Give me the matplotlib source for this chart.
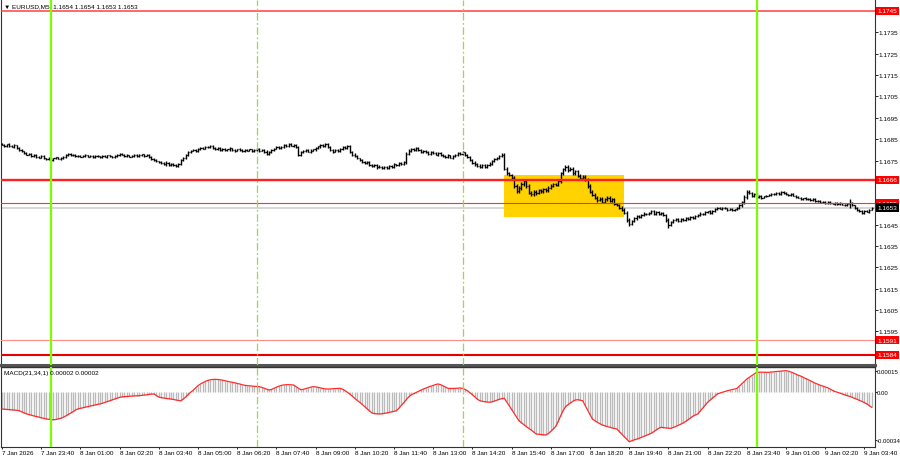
import numpy as np
import matplotlib.pyplot as plt
from matplotlib.patches import Rectangle

plt.rcParams['font.family'] = ['Liberation Sans', 'DejaVu Sans']

# EURUSD M5 closes, in points above 1.16000 (one value per bar)
close_pts = [
    824, 818, 826, 820, 815, 822, 808, 800, 793, 784,
    778, 781, 772, 776, 768, 764, 770, 760, 757, 764,
    752, 760, 765, 758, 762, 768, 776, 781, 774, 778,
    770, 773, 768, 771, 775, 769, 772, 767, 773, 770,
    766, 771, 768, 774, 770, 765, 772, 776, 781, 778,
    772, 775, 769, 773, 777, 771, 775, 779, 773, 776,
    768, 758, 752, 746, 743, 738, 732, 740, 728, 735,
    730, 726, 734, 752, 763, 775, 790, 796, 800, 794,
    803, 810, 806, 815, 812, 818, 809, 804, 810, 800,
    805, 798, 802, 808, 800, 796, 803, 799, 793, 801,
    797, 802, 794, 799, 804, 796, 800, 792, 782, 790,
    800, 806, 812, 808, 815, 822, 818, 826, 820, 823,
    812, 778, 788, 795, 800, 792, 797, 802, 808, 816,
    822, 818, 826, 812, 798, 792, 800, 795, 804, 812,
    808, 816, 790, 778, 772, 760, 752, 744, 738, 742,
    730, 724, 728, 718, 722, 714, 720, 716, 726, 721,
    732, 728, 738, 734, 742, 782, 796, 805, 800, 808,
    798, 790, 796, 788, 782, 790, 785, 778, 784, 776,
    772, 768, 774, 764, 770, 778, 785, 781, 788, 776,
    766, 752, 740, 732, 726, 720, 728, 722, 730, 736,
    748, 758, 762, 772, 778, 712, 690, 682, 670, 630,
    608, 622, 640, 655, 630, 600, 592, 605, 598, 612,
    606, 615, 610, 622, 632, 640, 636, 655, 690, 710,
    722, 705, 712, 690, 700, 680, 668, 675, 660, 630,
    605, 590, 575, 565, 572, 558, 568, 576, 562, 570,
    548, 540, 530, 520, 505, 470, 455, 468, 480, 490,
    485, 495, 502, 498, 505, 512, 500, 508, 498, 505,
    495, 470, 448, 462, 470, 476, 468, 478, 472, 482,
    476, 486, 480, 490, 495, 502, 498, 508, 512, 505,
    515, 522, 528, 524, 530, 526, 520, 525, 518, 522,
    530, 540, 555, 580, 605, 598, 585, 592, 578, 584,
    576, 582, 586, 590, 595, 592, 598, 594, 602, 600,
    592, 588, 594, 585, 580, 576, 570, 574, 568, 572,
    566, 570, 562, 560, 555, 558, 552, 556, 550, 548,
    552, 546, 550, 544, 540, 548, 552, 540, 528, 520,
    512, 506, 515, 510, 520, 530,
]

# high/low extension beyond the body, in points
wick_pts = [
    3, 4, 3, 5, 3, 4, 3, 4, 5, 3,
    4, 3, 5, 3, 4, 3, 4, 5, 3, 4,
    5, 3, 4, 3, 4, 3, 5, 4, 3, 4,
    3, 4, 3, 3, 4, 3, 4, 3, 3, 4,
    3, 4, 3, 4, 3, 3, 4, 5, 3, 4,
    3, 4, 3, 4, 5, 3, 4, 3, 4, 3,
    4, 5, 4, 3, 4, 5, 4, 6, 4, 5,
    4, 5, 4, 6, 5, 4, 5, 4, 3, 4,
    4, 5, 3, 4, 5, 4, 3, 4, 5, 3,
    4, 3, 4, 5, 3, 4, 3, 4, 3, 4,
    3, 4, 3, 4, 3, 4, 3, 5, 6, 4,
    4, 5, 4, 5, 4, 6, 4, 5, 4, 5,
    4, 8, 5, 4, 5, 4, 5, 4, 5, 4,
    5, 4, 6, 5, 4, 5, 4, 5, 4, 5,
    4, 5, 6, 5, 6, 5, 4, 5, 6, 5,
    5, 4, 5, 6, 5, 4, 5, 4, 5, 4,
    5, 4, 5, 4, 6, 8, 6, 5, 6, 5,
    5, 4, 5, 4, 5, 4, 5, 4, 5, 4,
    5, 4, 5, 4, 5, 4, 5, 6, 5, 4,
    5, 6, 5, 6, 5, 6, 5, 6, 5, 6,
    5, 6, 5, 6, 7, 8, 7, 6, 7, 9,
    9, 8, 9, 8, 7, 8, 7, 8, 7, 6,
    6, 7, 6, 7, 6, 7, 6, 7, 8, 7,
    8, 7, 6, 7, 6, 7, 6, 7, 6, 8,
    8, 7, 6, 7, 6, 7, 6, 7, 6, 5,
    6, 5, 6, 5, 6, 8, 10, 6, 5, 6,
    5, 6, 5, 4, 5, 6, 5, 4, 5, 4,
    5, 7, 12, 6, 5, 4, 5, 4, 5, 4,
    4, 5, 4, 5, 4, 5, 4, 5, 4, 5,
    4, 5, 4, 3, 4, 3, 4, 3, 4, 3,
    4, 5, 6, 7, 9, 6, 5, 6, 5, 4,
    4, 3, 4, 3, 4, 5, 4, 5, 4, 5,
    4, 3, 4, 3, 4, 3, 4, 3, 4, 3,
    4, 3, 4, 3, 4, 3, 4, 3, 4, 3,
    4, 3, 4, 3, 4, 5, 20, 5, 4, 5,
    4, 5, 4, 3, 4, 3,
]

# MACD(21,34,1) main line, in units of 1e-6
macd_e6 = [
    -121, -122, -124, -125, -127, -128, -130, -133, -140, -148,
    -155, -160, -165, -170, -174, -178, -183, -187, -191, -194,
    -196, -197, -195, -191, -187, -180, -170, -160, -150, -140,
    -128, -120, -116, -112, -108, -104, -100, -96, -92, -88,
    -85, -80, -74, -68, -62, -56, -50, -44, -38, -35,
    -33, -32, -30, -29, -28, -27, -26, -24, -22, -20,
    -17, -15, -14, -25, -36, -40, -43, -46, -48, -50,
    -53, -57, -60, -62, -50, -35, -18, -2, 12, 28,
    45, 57, 66, 75, 82, 87, 89, 90, 89, 87,
    84, 80, 76, 72, 69, 65, 61, 57, 52, 48,
    45, 44, 42, 41, 39, 38, 33, 27, 20, 14,
    18, 26, 34, 41, 47, 50, 52, 52, 51, 50,
    38, 26, 16, 19, 24, 29, 34, 38, 36, 33,
    29, 25, 22, 21, 22, 23, 24, 25, 26, 20,
    10, -2, -15, -30, -45, -60, -73, -88, -103, -118,
    -134, -149, -153, -155, -156, -155, -152, -149, -145, -141,
    -137, -133, -115, -95, -75, -55, -35, -20, -12, -4,
    5, 13, 21, 28, 35, 41, 47, 53, 57, 52,
    44, 35, 26, 25, 25, 26, 27, 28, 26, 18,
    9, -5, -20, -35, -50, -62, -66, -69, -71, -73,
    -70, -64, -58, -52, -47, -45, -70, -97, -125, -150,
    -178, -204, -218, -232, -246, -258, -270, -284, -298, -300,
    -302, -304, -305, -295, -280, -262, -245, -210, -170, -133,
    -105, -90, -78, -66, -57, -55, -58, -62, -95, -128,
    -160, -192, -204, -215, -225, -234, -240, -245, -250, -255,
    -259, -263, -282, -300, -318, -336, -353, -347, -340, -335,
    -329, -322, -315, -308, -301, -293, -282, -270, -258, -251,
    -253, -255, -257, -258, -252, -245, -237, -229, -220, -209,
    -197, -185, -172, -163, -156, -135, -114, -92, -73, -58,
    -42, -27, -14, -8, -2, 3, 9, 13, 17, 21,
    26, 42, 58, 75, 92, 104, 116, 128, 140, 140,
    141, 140, 140, 140, 142, 143, 145, 147, 148, 150,
    151, 148, 142, 135, 127, 119, 113, 105, 96, 88,
    79, 70, 62, 55, 48, 42, 36, 30, 21, 12,
    3, -2, -8, -14, -20, -26, -31, -38, -45, -52,
    -60, -67, -75, -85, -97, -109,
]

time_labels = [
    '7 Jan 2026', '7 Jan 23:40', '8 Jan 01:00', '8 Jan 02:20', '8 Jan 03:40',
    '8 Jan 05:00', '8 Jan 06:20', '8 Jan 07:40', '8 Jan 09:00', '8 Jan 10:20',
    '8 Jan 11:40', '8 Jan 13:00', '8 Jan 14:20', '8 Jan 15:40', '8 Jan 17:00',
    '8 Jan 18:20', '8 Jan 19:40', '8 Jan 21:00', '8 Jan 22:20', '8 Jan 23:40',
    '9 Jan 01:00', '9 Jan 02:20', '9 Jan 03:40',
]
label_every = 16  # bars between time labels

levels = [1.1745, 1.1666, 1.1655, 1.1591, 1.1584]
last_price = 1.1653
price_ticks = [1.1735, 1.1725, 1.1715, 1.1705, 1.1695, 1.1685, 1.1675,
               1.1645, 1.1635, 1.1625, 1.1615, 1.1605, 1.1595]
session_bars = [20, 308]       # green lines (midnight)
open_bars = [104, 188]         # dash-dot lines
zone_bars = [204.9, 253.9]
zone_prices = [1.16486, 1.16682]

# ---- derived OHLC ----
closes = 1.16 + np.array(close_pts) / 1e5
opens = np.r_[closes[0] + 0.00004, closes[:-1]]
wick = np.array(wick_pts) / 1e5
highs = np.maximum(opens, closes) + wick
lows = np.minimum(opens, closes) - wick
x = np.arange(len(closes))
macd = np.array(macd_e6) / 1e6
xm = np.arange(len(macd))

W, H = 900, 460
FS = 4.6
fig = plt.figure(figsize=(W / 100, H / 100), dpi=100)
fig.patch.set_facecolor('white')


def px_axes(x0, y0, x1, y1):
    return fig.add_axes([x0 / W, 1 - y1 / H, (x1 - x0) / W, (y1 - y0) / H])


bar_px, bar0_px = 2.45, 2.0
xlim = ((1 - bar0_px) / bar_px, (875 - bar0_px) / bar_px)
ppx = 21366.0  # pixels per price unit

ax = px_axes(1, 1, 875, 366)
ax.set_xlim(*xlim)
ax.set_ylim(1.1745 - (366 - 12) / ppx, 1.1745 + (12 - 1) / ppx)

ax.axhline(last_price, color='#d0d0d0', lw=1.2, zorder=1)
ax.add_patch(Rectangle((zone_bars[0], zone_prices[0]),
                       zone_bars[1] - zone_bars[0],
                       zone_prices[1] - zone_prices[0],
                       fc='#ffd200', ec='none', zorder=2))

ax.vlines(x, lows, highs, color='black', lw=1.0, zorder=4)
ax.hlines(opens, x - 0.45, x, color='black', lw=0.9, zorder=4)
ax.hlines(closes, x, x + 0.45, color='black', lw=0.9, zorder=4)

lw_levels = [1.1, 1.7, 0.8, 0.8, 1.5]
col_levels = ['#ff4040', '#ff2020', '#ff3030', '#ff8a8a', '#e80000']
for lv, lw, c in zip(levels, lw_levels, col_levels):
    ax.axhline(lv, color=c, lw=lw, zorder=5)

ax.yaxis.tick_right()
ax.set_yticks(price_ticks)
ax.set_yticklabels([f'{t:.4f}' for t in price_ticks])
ax.tick_params(axis='y', labelsize=FS, length=1.8, width=0.6, pad=1.0)
ax.set_xticks([])

ytrans = ax.get_yaxis_transform()
for lv in levels:
    ax.text(1.003, lv, f'{lv:.4f}', transform=ytrans, color='white',
            fontsize=FS, va='center', ha='left', clip_on=False, zorder=10,
            bbox=dict(boxstyle='square,pad=0.28', fc='#ff0000', ec='none'))
ax.text(1.003, last_price, f'{last_price:.4f}', transform=ytrans,
        color='white', fontsize=FS, va='center', ha='left', clip_on=False,
        zorder=10, bbox=dict(boxstyle='square,pad=0.28', fc='black', ec='none'))

# ---- MACD panel ----
ax2 = px_axes(1, 368, 875, 448)
ax2.set_xlim(*xlim)
mpx = 140816.0
ax2.set_ylim(-(448 - 393) / mpx, (393 - 368) / mpx)
ax2.vlines(xm, 0, macd, color='#bababa', lw=0.95, zorder=2)
ax2.plot(xm, macd, color='#ff2a2a', lw=0.9, zorder=3)

ax2.yaxis.tick_right()
ax2.set_yticks([0.00015, 0.0, -0.00034])
ax2.set_yticklabels(['0.00015', '0.00', '-0.00034'])
ax2.tick_params(axis='y', labelsize=FS - 0.3, length=1.2, width=0.6, pad=0.4)

ticks = np.arange(len(time_labels)) * label_every
ax2.set_xticks(ticks)
ax2.set_xticklabels(time_labels)
ax2.tick_params(axis='x', labelsize=FS, length=1.5, width=0.6, pad=0.6)
for lab in ax2.get_xticklabels():
    lab.set_ha('left')

for a in (ax, ax2):
    for b in session_bars:
        a.axvline(b, color='#7cfc00', lw=1.6, zorder=6)
    for b in open_bars:
        a.axvline(b, color='#9cdb3c', lw=0.9, ls=(0, (6, 2, 1.5, 2)), zorder=6)
    for s in a.spines.values():
        s.set_color('#333333')
        s.set_linewidth(0.8)
    a.set_facecolor('white')

ax.spines['top'].set_visible(False)
ax.spines['bottom'].set_linewidth(2.2)
ax.spines['bottom'].set_color('#555555')
ax2.spines['top'].set_linewidth(1.0)

fig.text(4 / W, 1 - 7 / H, '\u25bc EURUSD,M5  1.1654 1.1654 1.1653 1.1653',
         fontsize=FS, va='center', ha='left')
fig.text(4 / W, 1 - 374 / H, 'MACD(21,34,1) 0.00002 0.00002',
         fontsize=FS, va='center', ha='left')

fig.savefig('out.png', dpi=100, facecolor='white')
